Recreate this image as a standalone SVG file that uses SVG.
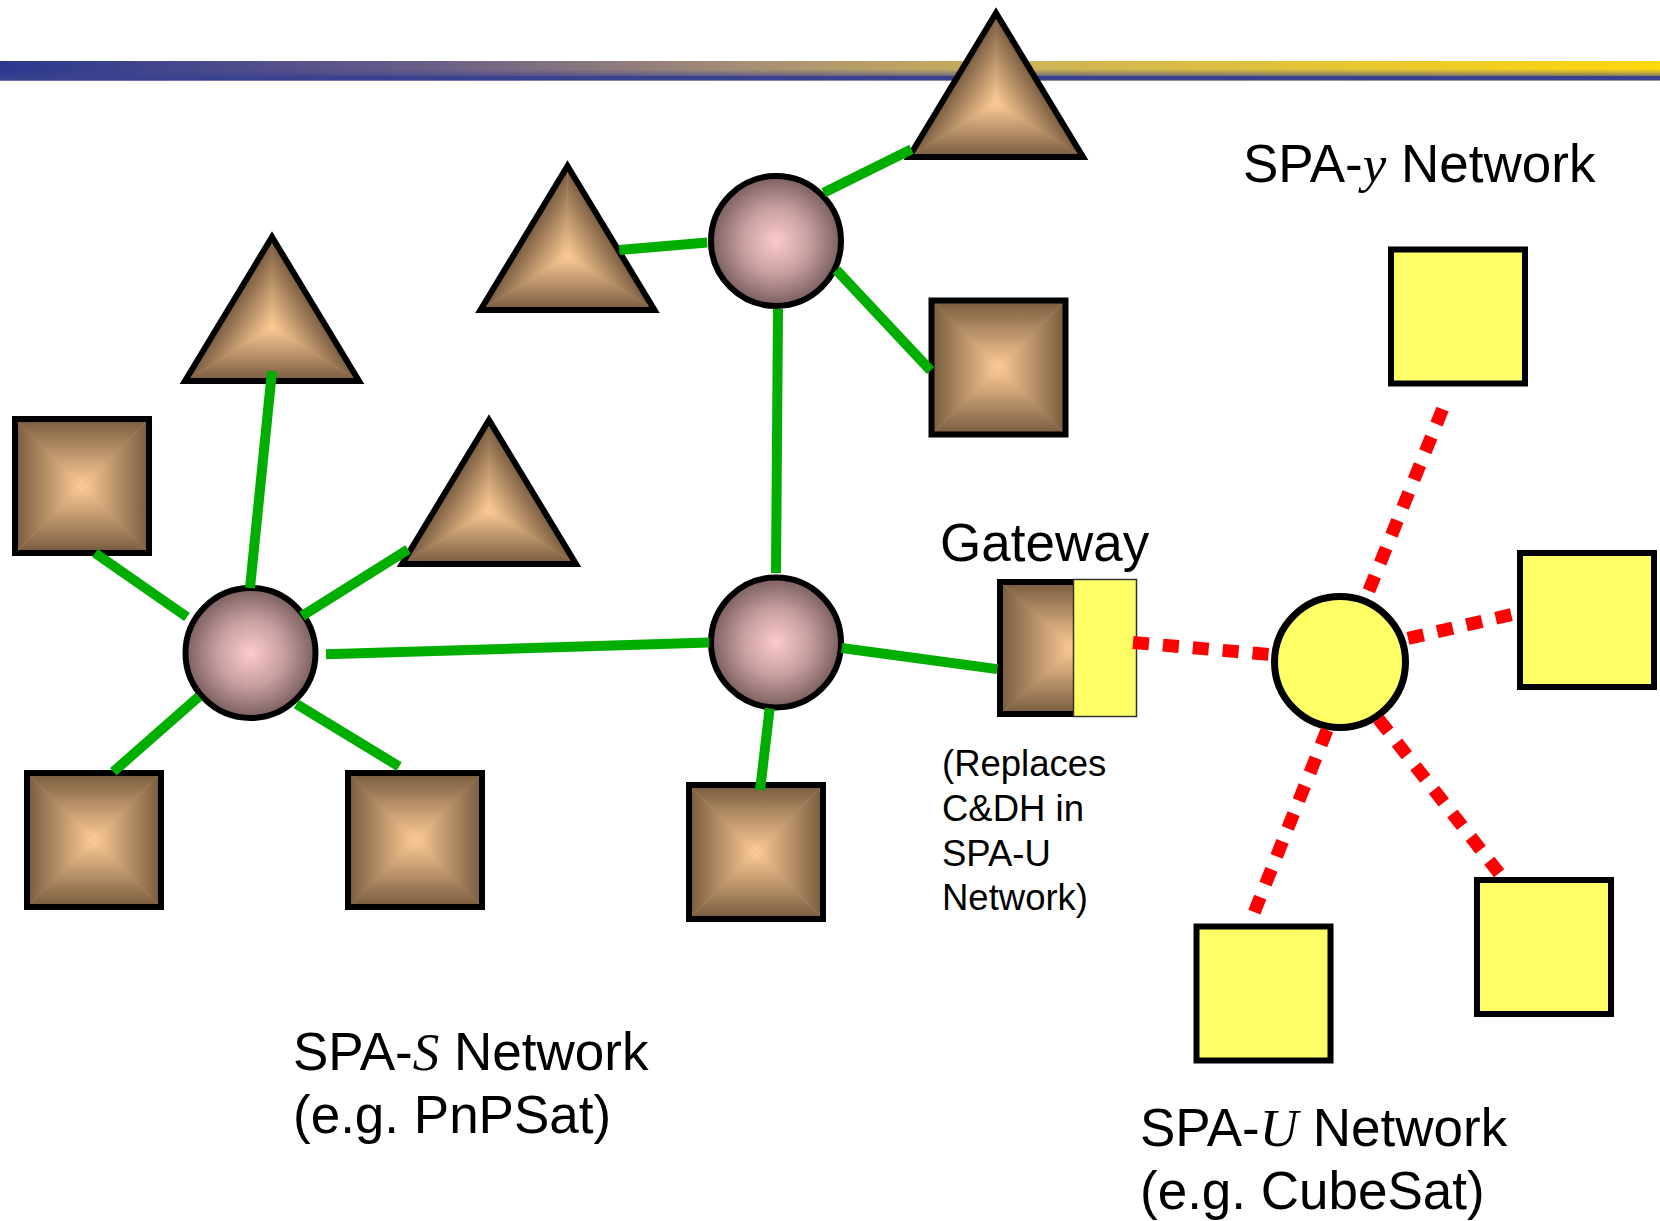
<svg xmlns="http://www.w3.org/2000/svg" xmlns:xlink="http://www.w3.org/1999/xlink" width="1660" height="1221" viewBox="0 0 1660 1221">
<style>
  text { font-family: "Liberation Sans", Arial, sans-serif; fill: #000; }
  .big { font-size: 53px; }
  .mid { font-size: 53px; }
  .small { font-size: 36.5px; }
  .it { font-family: "Liberation Serif", "Times New Roman", serif; font-style: italic; }
  .green { stroke: #00AE00; stroke-width: 10; fill: none; }
  .red { stroke: #FF0000; stroke-width: 13; stroke-dasharray: 16 14; fill: none; }
  .outline { fill: none; stroke: #000; stroke-width: 6; }
  .ysq { fill: #FFFF66; stroke: #000; stroke-width: 6; }
  .ball { fill: url(#ballGrad); stroke: #000; stroke-width: 6; }
  .tri { stroke: #000; stroke-width: 6; stroke-linejoin: miter; }
</style>
<defs>
  <linearGradient id="barH" x1="0" y1="0" x2="1" y2="0">
    <stop offset="0" stop-color="#2B388F"/>
    <stop offset="0.25" stop-color="#685C88"/>
    <stop offset="0.45" stop-color="#A68F74"/>
    <stop offset="0.62" stop-color="#CDB356"/>
    <stop offset="1" stop-color="#FFD80E"/>
  </linearGradient>
  <linearGradient id="barV" x1="0" y1="0" x2="0" y2="1">
    <stop offset="0" stop-color="#3A4290" stop-opacity="0"/>
    <stop offset="0.42" stop-color="#3A4290" stop-opacity="0"/>
    <stop offset="0.74" stop-color="#3A4290" stop-opacity="0.55"/>
    <stop offset="0.77" stop-color="#3A4290" stop-opacity="1"/>
    <stop offset="1" stop-color="#3A4290" stop-opacity="1"/>
  </linearGradient>
  <radialGradient id="ballGrad" cx="0.5" cy="0.5" r="0.5">
    <stop offset="0" stop-color="#FCCACD"/>
    <stop offset="0.5" stop-color="#C9A0A2"/>
    <stop offset="1" stop-color="#7A5E5E"/>
  </radialGradient>
  <linearGradient id="gT" x1="0" y1="0" x2="0" y2="1"><stop offset="0" stop-color="#765A3E"/><stop offset="1" stop-color="#FFCC96"/></linearGradient>
  <linearGradient id="gB" x1="0" y1="1" x2="0" y2="0"><stop offset="0" stop-color="#765A3E"/><stop offset="1" stop-color="#FFCC96"/></linearGradient>
  <linearGradient id="gL" x1="0" y1="0" x2="1" y2="0"><stop offset="0" stop-color="#765A3E"/><stop offset="1" stop-color="#FFCC96"/></linearGradient>
  <linearGradient id="gR" x1="1" y1="0" x2="0" y2="0"><stop offset="0" stop-color="#765A3E"/><stop offset="1" stop-color="#FFCC96"/></linearGradient>
  <g id="sqFill">
    <rect x="0" y="0" width="1" height="1" fill="#C49A6C"/>
    <polygon points="0,0 1,0 0.5,0.5" fill="url(#gT)"/>
    <polygon points="0,1 1,1 0.5,0.5" fill="url(#gB)"/>
    <polygon points="0,0 0,1 0.5,0.5" fill="url(#gL)"/>
    <polygon points="1,0 1,1 0.5,0.5" fill="url(#gR)"/>
  </g>
  <linearGradient id="tBase" gradientUnits="userSpaceOnUse" x1="0" y1="144" x2="0" y2="90"><stop offset="0" stop-color="#765A3E"/><stop offset="1" stop-color="#FFCC96"/></linearGradient>
  <linearGradient id="tLeft" gradientUnits="userSpaceOnUse" x1="-40" y1="66" x2="0" y2="90"><stop offset="0" stop-color="#765A3E"/><stop offset="1" stop-color="#FFCC96"/></linearGradient>
  <linearGradient id="tRight" gradientUnits="userSpaceOnUse" x1="40" y1="66" x2="0" y2="90"><stop offset="0" stop-color="#765A3E"/><stop offset="1" stop-color="#FFCC96"/></linearGradient>
  <g id="triShape">
    <polygon points="0,0 -87,144 87,144" fill="#C49A6C"/>
    <polygon points="-87,144 87,144 0,90" fill="url(#tBase)"/>
    <polygon points="0,0 -87,144 0,90" fill="url(#tLeft)"/>
    <polygon points="0,0 87,144 0,90" fill="url(#tRight)"/>
    <polygon class="tri" points="0,0 -87,144 87,144" fill="none"/>
  </g>
  <clipPath id="gwClip"><rect x="1000" y="582" width="74" height="132"/></clipPath>
</defs>

<g id="header">
  <rect x="0" y="61" width="1660" height="19.5" fill="url(#barH)"/>
  <rect x="0" y="61" width="1660" height="19.5" fill="url(#barV)"/>
</g>

<g id="nodes">
  <g id="tri-top"><use xlink:href="#triShape" transform="translate(996,13)"/></g>
  <g id="tri-1"><use xlink:href="#triShape" transform="translate(272,237)"/></g>
  <g id="tri-2"><use xlink:href="#triShape" transform="translate(567.5,166)"/></g>
  <g id="tri-4"><use xlink:href="#triShape" transform="translate(489,420)"/></g>

  <g id="sq-1"><use xlink:href="#sqFill" transform="translate(15,419) scale(134)"/><rect class="outline" x="15" y="419" width="134" height="134"/></g>
  <g id="sq-2"><use xlink:href="#sqFill" transform="translate(27,773) scale(134)"/><rect class="outline" x="27" y="773" width="134" height="134"/></g>
  <g id="sq-3"><use xlink:href="#sqFill" transform="translate(348,773) scale(134)"/><rect class="outline" x="348" y="773" width="134" height="134"/></g>
  <g id="sq-4"><use xlink:href="#sqFill" transform="translate(689,785) scale(134)"/><rect class="outline" x="689" y="785" width="134" height="134"/></g>
  <g id="sq-5"><use xlink:href="#sqFill" transform="translate(931.5,300.5) scale(134)"/><rect class="outline" x="931.5" y="300.5" width="134" height="134"/></g>

  <g id="hub-1"><circle class="ball" cx="250.5" cy="653" r="65"/></g>
  <g id="hub-2"><circle class="ball" cx="776" cy="241" r="65"/></g>
  <g id="hub-3"><circle class="ball" cx="776" cy="642.5" r="65"/></g>

  <g id="gateway">
    <g clip-path="url(#gwClip)"><use xlink:href="#sqFill" transform="translate(1000,582) scale(148,132)"/></g>
    <polyline points="1074,582 1000,582 1000,714 1074,714" fill="none" stroke="#000" stroke-width="6"/>
    <rect x="1073.5" y="579.5" width="63" height="137" fill="#FFFF66" stroke="#333" stroke-width="1.5"/>
  </g>

  <g id="hub-u"><circle cx="1340" cy="662" r="65.5" fill="#FFFF66" stroke="#000" stroke-width="7"/></g>

  <g id="ysq-1"><rect class="ysq" x="1391" y="249.5" width="134" height="134"/></g>
  <g id="ysq-2"><rect class="ysq" x="1520" y="553" width="134" height="134"/></g>
  <g id="ysq-3"><rect class="ysq" x="1477" y="880" width="134" height="134"/></g>
  <g id="ysq-4"><rect class="ysq" x="1196.5" y="926.5" width="134" height="134"/></g>
</g>

<g id="connectors">
  <line class="green" x1="250" y1="588" x2="272" y2="371"/>
  <line class="green" x1="95" y1="553" x2="187" y2="617"/>
  <line class="green" x1="302" y1="616" x2="408" y2="549.5"/>
  <line class="green" x1="326" y1="654.3" x2="709.3" y2="642.6"/>
  <line class="green" x1="199" y1="696.6" x2="113.3" y2="771.8"/>
  <line class="green" x1="296.4" y1="704" x2="399.1" y2="766.5"/>
  <line class="green" x1="776" y1="573" x2="778" y2="309"/>
  <line class="green" x1="769.7" y1="708.3" x2="760.1" y2="789.8"/>
  <line class="green" x1="841.7" y1="648" x2="997.3" y2="669.1"/>
  <line class="green" x1="619.3" y1="249.9" x2="707.2" y2="242.4"/>
  <line class="green" x1="823.7" y1="192.7" x2="911.5" y2="149.3"/>
  <line class="green" x1="836.4" y1="270" x2="930.6" y2="370.5"/>

  <line class="red" x1="1133" y1="642.5" x2="1270" y2="654.5"/>
  <line class="red" x1="1368.9" y1="590.8" x2="1446.2" y2="400.2"/>
  <line class="red" x1="1408" y1="638.4" x2="1514" y2="614"/>
  <line class="red" x1="1378.5" y1="718.9" x2="1503.3" y2="878.7"/>
  <line class="red" x1="1327" y1="730" x2="1250" y2="923"/>
</g>

<g id="labels">
  <text class="big" x="1243" y="182">SPA-<tspan class="it">y</tspan> Network</text>
  <text class="mid" x="940" y="561">Gateway</text>
  <text class="small" x="942">
    <tspan x="942" y="776">(Replaces</tspan>
    <tspan x="942" y="821">C&amp;DH in</tspan>
    <tspan x="942" y="866">SPA-U</tspan>
    <tspan x="942" y="910">Network)</tspan>
  </text>
  <text class="big" x="293" y="1070">SPA-<tspan class="it">S</tspan> Network</text>
  <text class="big" x="293" y="1133">(e.g. PnPSat)</text>
  <text class="big" x="1140" y="1146">SPA-<tspan class="it">U</tspan> Network</text>
  <text class="big" x="1140" y="1209">(e.g. CubeSat)</text>
</g>
</svg>
